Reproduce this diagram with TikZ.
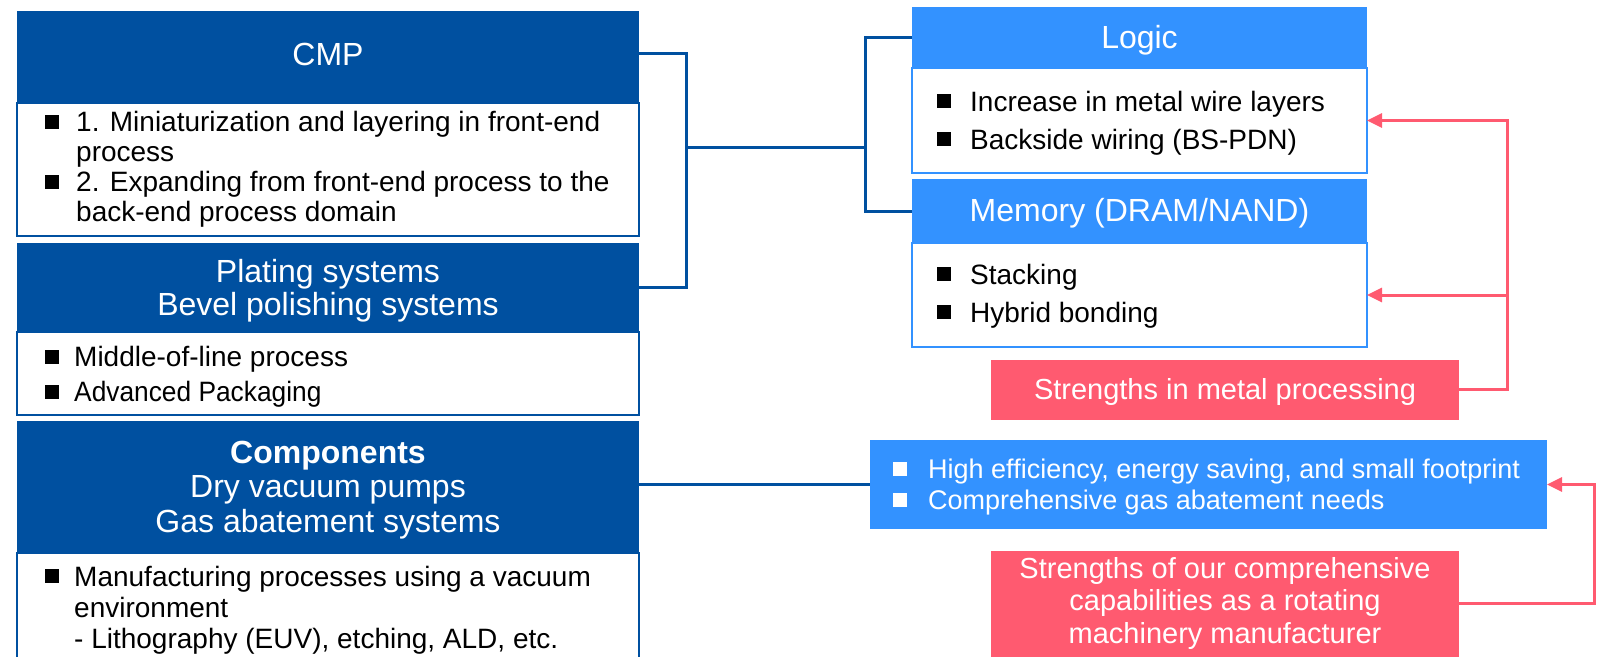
\documentclass[tikz,border=0pt]{standalone}
\usepackage{fontspec}
\usepackage{graphicx}
\setmainfont{Liberation Sans}
\usetikzlibrary{arrows.meta}
\definecolor{dblue}{HTML}{0050A0}
\definecolor{lblue}{HTML}{3392FF}
\definecolor{redbox}{HTML}{FF5A70}
\newcommand{\bsq}{\rule[3pt]{14pt}{14pt}}
\newcommand{\bitem}[1]{\makebox[#1][l]{\bsq}}
\begin{document}
\begin{tikzpicture}[x=1pt,y=-1pt,
  box/.style={anchor=north west, inner sep=0pt, outer sep=0pt},
  dhdr/.style={box, fill=dblue},
  dbody/.style={box, fill=white, draw=dblue, line width=2pt},
  lhdr/.style={box, fill=lblue},
  lbody/.style={box, fill=white, draw=lblue, line width=2pt},
  rbox/.style={box, fill=redbox},
  hlabel/.style={inner sep=0pt, text=white, align=center, font=\fontsize{32}{33}\selectfont},
  rlabel/.style={inner sep=0pt, text=white, align=center, font=\fontsize{29}{32.5}\selectfont},
  btext/.style={anchor=west, inner sep=0pt, align=left, text=black},
  bline/.style={draw=dblue, line width=3pt, line join=miter},
  rline/.style={draw=redbox, line width=3pt, line join=miter, -{Triangle[length=15pt,width=14pt]}}
]
\useasboundingbox (0,0) rectangle (1600,656);
% left column
\node[dhdr, minimum width=622, minimum height=92] (cmpH) at (17,11) {};
\node[hlabel] (cmpL) at ([yshift=3pt]cmpH.center) {CMP};
\node[dbody, minimum width=622, minimum height=133] (cmpB) at (17,103) {};
\node[btext, font=\fontsize{28}{30}\selectfont] (cmpT) at (45,169.5) {%
\bitem{31pt}1. Miniaturization and layering in front-end\\
\hspace*{31pt}process\\
\bitem{31pt}2. Expanding from front-end process to the\\
\hspace*{31pt}back-end process domain};
\node[dhdr, minimum width=622, minimum height=89] (platH) at (17,243) {};
\node[hlabel, font=\fontsize{32}{33}\selectfont] (platL) at ([yshift=-3pt]platH.center) {Plating systems\\Bevel polishing systems};
\node[dbody, minimum width=622, minimum height=83] (platB) at (17,332) {};
\node[btext, font=\fontsize{28}{35}\selectfont] (platT) at (45,377) {%
\bitem{29pt}Middle-of-line process\\
\bitem{29pt}\scalebox{0.94}[1]{Advanced Packaging}};
\node[dhdr, minimum width=622, minimum height=132] (compH) at (17,421) {};
\node[hlabel, font=\fontsize{32}{34.5}\selectfont] (compL) at ([yshift=-3pt]compH.center) {\textbf{Components}\\Dry vacuum pumps\\Gas abatement systems};
\node[dbody, minimum width=622, minimum height=115] (compB) at (17,553) {};
\node[btext, font=\fontsize{28}{31}\selectfont] (compT) at (45,610) {%
\bitem{29pt}Manufacturing processes using a vacuum\\
\hspace*{29pt}environment\\
\hspace*{29pt}- Lithography (EUV), etching, ALD, etc.};
% right column
\node[lhdr, minimum width=455, minimum height=61] (logicH) at (912,7) {};
\node[hlabel] (logicL) at ([yshift=-3pt]logicH.center) {Logic};
\node[lbody, minimum width=455, minimum height=105] (logicB) at (912,68) {};
\node[btext, font=\fontsize{28}{38}\selectfont] (logicT) at (937,123) {%
\bitem{33pt}Increase in metal wire layers\\
\bitem{33pt}Backside wiring (BS-PDN)};
\node[lhdr, minimum width=455, minimum height=64] (memH) at (912,179) {};
\node[hlabel] (memL) at ([yshift=-2pt]memH.center) {Memory (DRAM/NAND)};
\node[lbody, minimum width=455, minimum height=104] (memB) at (912,243) {};
\node[btext, font=\fontsize{28}{38}\selectfont] (memT) at (937,296) {%
\bitem{33pt}Stacking\\
\bitem{33pt}Hybrid bonding};
\node[rbox, minimum width=468, minimum height=60] (red1) at (991,360) {};
\node[rlabel] (red1L) at ([yshift=-2pt]red1.center) {Strengths in metal processing};
\node[box, fill=lblue, minimum width=677, minimum height=89] (blueB) at (870,440) {};
\node[btext, text=white, font=\fontsize{27}{31}\selectfont] (blueT) at (893,487.5) {%
\bitem{35pt}High efficiency, energy saving, and small footprint\\
\bitem{35pt}Comprehensive gas abatement needs};
\node[rbox, minimum width=468, minimum height=106] (red2) at (991,551) {};
\node[rlabel] (red2L) at ([yshift=1pt]red2.center) {Strengths of our comprehensive\\capabilities as a rotating\\machinery manufacturer};
% connectors
\coordinate (jL) at (686,147);
\coordinate (jR) at (865,147);
\coordinate (rx) at (1507,0);
\coordinate (rx2) at (1594,0);
\draw[bline] ([yshift=-42pt]cmpH.north east) -| (jL) |- (platH.east);
\draw[bline] (jL) -- (jR);
\draw[bline] (logicH.west) -| (jR) |- (memH.west);
\draw[bline] (blueB.west -| compH.east) -- (blueB.west);
\draw[rline] ([yshift=1pt]red1.east) -| (logicB.east -| rx) -- (logicB.east);
\draw[rline] (memB.east -| rx) -- (memB.east);
\draw[rline] ([yshift=1pt]red2.east) -| (blueB.east -| rx2) -- (blueB.east);
\end{tikzpicture}
\end{document}
